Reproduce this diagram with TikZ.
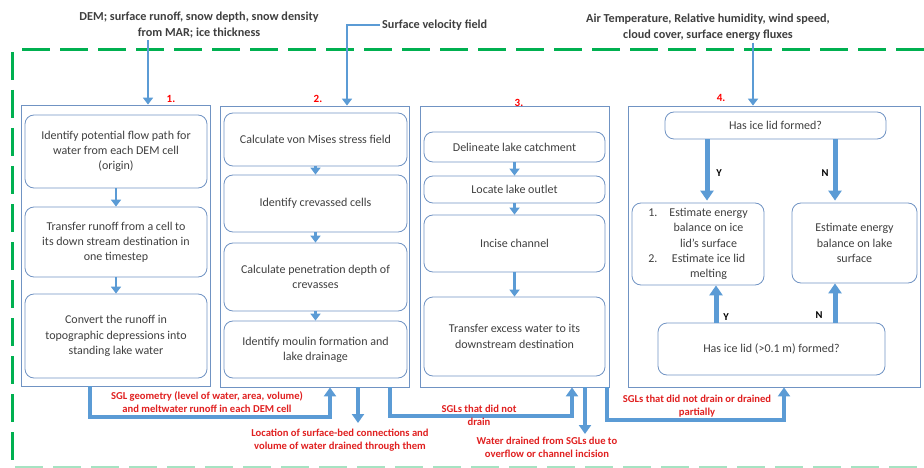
\documentclass[tikz,border=0pt]{standalone}
\usepackage{fontspec}
\setmainfont{Carlito}
\usetikzlibrary{arrows.meta}
\definecolor{flowblue}{HTML}{5B9BD5}
\definecolor{edgeblue}{HTML}{7093C3}
\definecolor{framegreen}{HTML}{00B050}
\definecolor{notered}{HTML}{E02020}
\definecolor{bodygrey}{HTML}{3F3F3F}
\begin{document}
\begin{tikzpicture}[x=1pt, y=-1pt,
  font=\fontsize{12}{15.2}\selectfont, text=bodygrey,
  stage/.style={draw=edgeblue, line width=0.8pt},
  task/.style={draw=edgeblue, line width=0.8pt, rounded corners=9pt, align=center},
  flow/.style={draw=flowblue, line width=2.6pt, -{Triangle[width=10pt,length=7pt]}},
  bigflow/.style={draw=flowblue, line width=5pt, -{Triangle[width=13pt,length=10pt]}},
  link/.style={draw=flowblue, line width=3.2pt, -{Triangle[width=12pt,length=9pt]}},
  frame/.style={draw=framegreen, line width=3pt, dash pattern=on 28pt off 10pt},
  note/.style={text=notered, font=\bfseries\fontsize{10.6}{12.8}\selectfont, align=center, inner sep=1pt},
  tag/.style={text=red, font=\bfseries\fontsize{11}{12}\selectfont, inner sep=0pt},
  answer/.style={text=black, font=\bfseries\fontsize{10.5}{12}\selectfont, inner sep=0pt},
  input/.style={font=\bfseries\fontsize{12.2}{16}\selectfont, align=center, inner sep=2pt}]
\useasboundingbox (0,0) rectangle (924,468);

% dashed model domain
\draw[frame] (22,50) -- (935,50);
\draw[frame] (12,52) -- (12,475);
\draw[frame, draw=framegreen!35, line width=1.5pt] (15,467) -- (935,467);

% inputs
\node[input] (in1) at (199,25) {DEM; surface runoff, snow depth, snow density\\from MAR; ice thickness};
\node[input, anchor=west] (in2) at (380,25) {Surface velocity field};
\node[input] (in3) at (708,27) {Air Temperature, Relative humidity, wind speed,\\cloud cover, surface energy fluxes};

% modules
\node[stage, minimum width=189, minimum height=281] (c1) at (115.5,245.5) {};
\node[stage, minimum width=189, minimum height=281] (c2) at (314.5,246.5) {};
\node[stage, minimum width=189, minimum height=281] (c3) at (514.5,246.5) {};
\node[stage, minimum width=292, minimum height=281] (c4) at (774,246.5) {};

\node[tag] (t1) at (171,99) {1.};
\node[tag] (t2) at (318,99) {2.};
\node[tag] (t3) at (519,103) {3.};
\node[tag] (t4) at (721,98) {4.};

\draw[flow] (148,0 |- in1.south) -- (148,0 |- c1.north);
\draw[flow] (in2.west) -| (347,0 |- c2.north);
\draw[flow] (753,0 |- in3.south) -- (753,0 |- c4.north);

% 1. flow routing
\node[task, minimum width=182, minimum height=73] (b11) at (116,151.5) {Identify potential flow path for\\water from each DEM cell\\(origin)};
\node[task, minimum width=182, minimum height=70] (b12) at (116,242) {Transfer runoff from a cell to\\its down stream destination in\\one timestep};
\node[task, minimum width=182, minimum height=84] (b13) at (116,336) {Convert the runoff in\\topographic depressions into\\standing lake water};
\draw[flow] (b11) -- (b12);
\draw[flow] (b12) -- (b13);

% 2. hydrofracture
\node[task, minimum width=183, minimum height=53] (b21) at (315.5,139.5) {Calculate von Mises stress field};
\node[task, minimum width=183, minimum height=57] (b22) at (315.5,203.5) {Identify crevassed cells};
\node[task, minimum width=183, minimum height=68] (b23) at (315.5,277) {Calculate penetration depth of\\crevasses};
\node[task, minimum width=183, minimum height=57] (b24) at (315.5,349.5) {Identify moulin formation and\\lake drainage};
\draw[flow] (b21) -- (b22);
\draw[flow] (b22) -- (b23);
\draw[flow] (b23) -- (b24);

% 3. overflow and incision
\node[task, minimum width=181, minimum height=30] (b31) at (514.5,147) {Delineate lake catchment};
\node[task, minimum width=181, minimum height=27] (b32) at (514.5,189.5) {Locate lake outlet};
\node[task, minimum width=181, minimum height=57] (b33) at (514.5,243.5) {Incise channel};
\node[task, minimum width=181, minimum height=79] (b34) at (514.5,336.5) {Transfer excess water to its\\downstream destination};
\draw[flow] (b31) -- (b32);
\draw[flow] (b32) -- (b33);
\draw[flow] (b33) -- (b34);

% 4. ice lid
\node[task, minimum width=221, minimum height=27] (b41) at (775.5,125.5) {Has ice lid formed?};
\node[task, minimum width=132, minimum height=82, inner sep=2pt] (b42) at (698,244) {\begin{tabular}{@{}r@{\hspace{12pt}}c@{}}1. & Estimate energy\\ & balance on ice\\ & lid’s surface\\ 2. & Estimate ice lid\\ & melting\end{tabular}};
\node[task, minimum width=125, minimum height=80] (b43) at (854.5,243) {Estimate energy\\balance on lake\\surface};
\node[task, minimum width=227, minimum height=52] (b44) at (771.5,349) {Has ice lid (>0.1 m) formed?};
\draw[bigflow, shorten >=2pt] (707,0 |- b41.south) -- (707,0 |- b42.north);
\draw[bigflow, shorten >=2pt] (835,0 |- b41.south) -- (835,0 |- b43.north);
\draw[bigflow] (716,0 |- b44.north) -- (716,0 |- b42.south);
\draw[bigflow] (835,0 |- b44.north) -- (835,0 |- b43.south);
\node[answer] (y1) at (719,173) {Y};
\node[answer] (n1) at (825,173) {N};
\node[answer] (y2) at (726,317) {Y};
\node[answer] (n2) at (819,315) {N};

% exchanges between modules
\draw[link] (90,0 |- c1.south) |- (330,417) -- (330,0 |- c2.south);
\draw[link] (358,0 |- c2.south) -- (358,423);
\draw[link] (390,0 |- c2.south) |- (572,416) -- (572,0 |- c3.south);
\draw[link] (585,0 |- c3.south) -- (585,434);
\draw[link] (607,0 |- c3.south) |- (784,420) -- (784,0 |- c4.south);
\node[note] (l1) at (207,402) {SGL geometry (level of water, area, volume)\\and meltwater runoff in each DEM cell};
\node[note] (l2) at (340,440) {Location of surface-bed connections and\\volume of water drained through them};
\node[note] (l3) at (479,415) {SGLs that did not\\drain};
\node[note] (l4) at (547,447) {Water drained from SGLs due to\\overflow or channel incision};
\node[note] (l5) at (697,406) {SGLs that did not drain or drained\\partially};
\end{tikzpicture}
\end{document}
